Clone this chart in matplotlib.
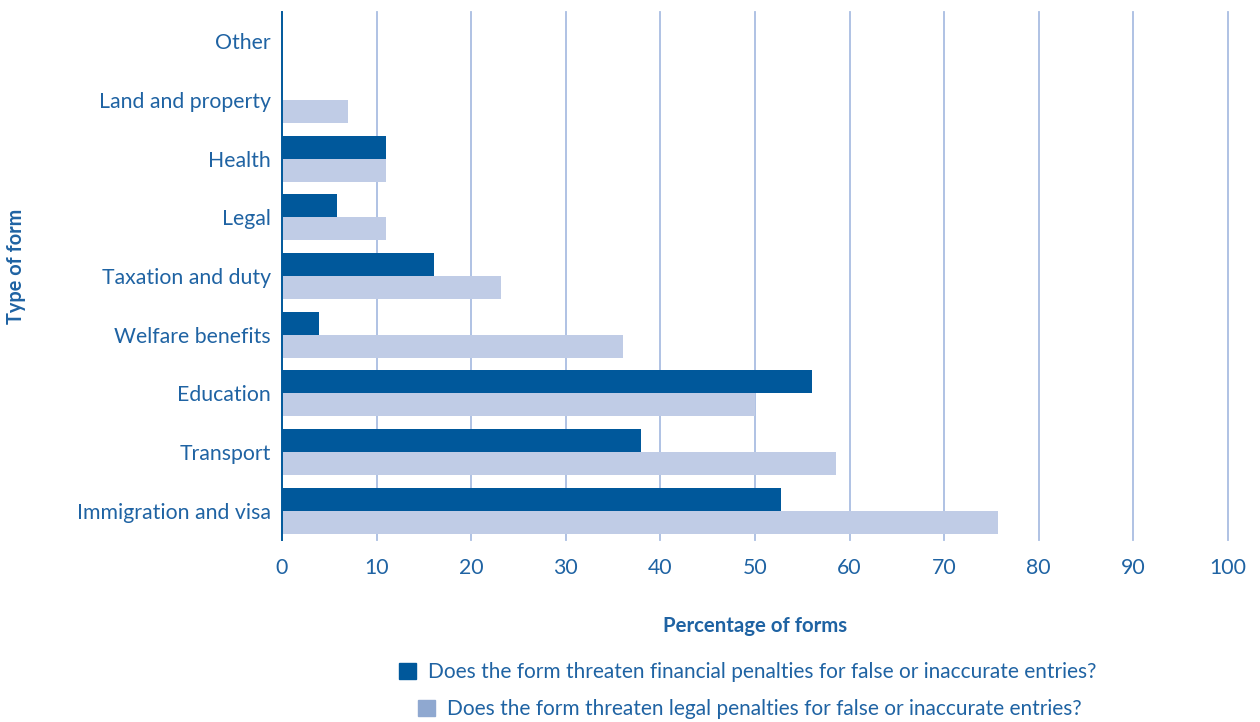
import numpy as np
import matplotlib
matplotlib.use('Agg')
import matplotlib.pyplot as plt
from matplotlib.patches import Patch

# Datos (de abajo hacia arriba)
categories = ['Immigration and visa', 'Transport', 'Education', 'Welfare benefits',
              'Taxation and duty', 'Legal', 'Health', 'Land and property', 'Other']
financial = [52.8, 37.9, 56.0, 3.9, 16.1, 5.8, 11.0, 0.0, 0.0]
legal = [75.7, 58.6, 50.0, 36.0, 23.2, 11.0, 11.0, 7.0, 0.0]
x_ticks = [0, 10, 20, 30, 40, 50, 60, 70, 80, 90, 100]

label_financial = 'Does the form threaten financial penalties for false or inaccurate entries?'
label_legal = 'Does the form threaten legal penalties for false or inaccurate entries?'

dark = '#00589b'
light = '#c0cce6'
legend_light = '#8fa8d0'
grid_col = '#a9bde2'
text_col = '#1f63a3'

plt.rcParams['font.family'] = ['Lato', 'DejaVu Sans']

W, H = 1260, 722
fig = plt.figure(figsize=(W / 100, H / 100), dpi=100)
ax = fig.add_axes([282 / W, 1 - 540 / H, (1228 - 282) / W, (540 - 12) / H])

y = np.arange(len(categories))
h = 0.39
ax.barh(y + h / 2, financial, height=h, color=dark, zorder=3)
ax.barh(y - h / 2, legal, height=h, color=light, zorder=2)

ax.set_xlim(0, 100)
ax.set_ylim(-0.5, len(categories) - 0.5)
ax.set_xticks(x_ticks)
ax.set_yticks(y)
ax.set_yticklabels(categories)
for gx in x_ticks[1:]:
    ax.axvline(gx, color=grid_col, linewidth=1.3, zorder=1, clip_on=False)

for side in ['top', 'right', 'bottom']:
    ax.spines[side].set_visible(False)
ax.spines['left'].set_color(dark)
ax.spines['left'].set_linewidth(1.4)
ax.spines['left'].set_zorder(4)

ax.tick_params(axis='both', length=0, labelcolor=text_col, labelsize=15.3)
ax.tick_params(axis='x', pad=13)
ax.tick_params(axis='y', pad=8)

ax.set_xlabel('Percentage of forms', fontsize=14.7, fontweight='bold', color=text_col, labelpad=27)
fig.text(16 / W, 1 - 266 / H, 'Type of form', rotation=90, fontsize=14.3, fontweight='bold',
         color=text_col, ha='center', va='center')

leg1 = fig.legend(handles=[Patch(color=dark)], labels=[label_financial],
                  loc='center left', bbox_to_anchor=(399 / W, 1 - 672 / H),
                  frameon=False, fontsize=15, handlelength=0.8, handleheight=0.8,
                  handletextpad=0.6, borderpad=0, borderaxespad=0)
leg2 = fig.legend(handles=[Patch(color=legend_light)], labels=[label_legal],
                  loc='center left', bbox_to_anchor=(418 / W, 1 - 709 / H),
                  frameon=False, fontsize=15, handlelength=0.8, handleheight=0.8,
                  handletextpad=0.6, borderpad=0, borderaxespad=0)
for leg in (leg1, leg2):
    for t in leg.get_texts():
        t.set_color(text_col)

fig.savefig('out.png', dpi=100, facecolor='white')
